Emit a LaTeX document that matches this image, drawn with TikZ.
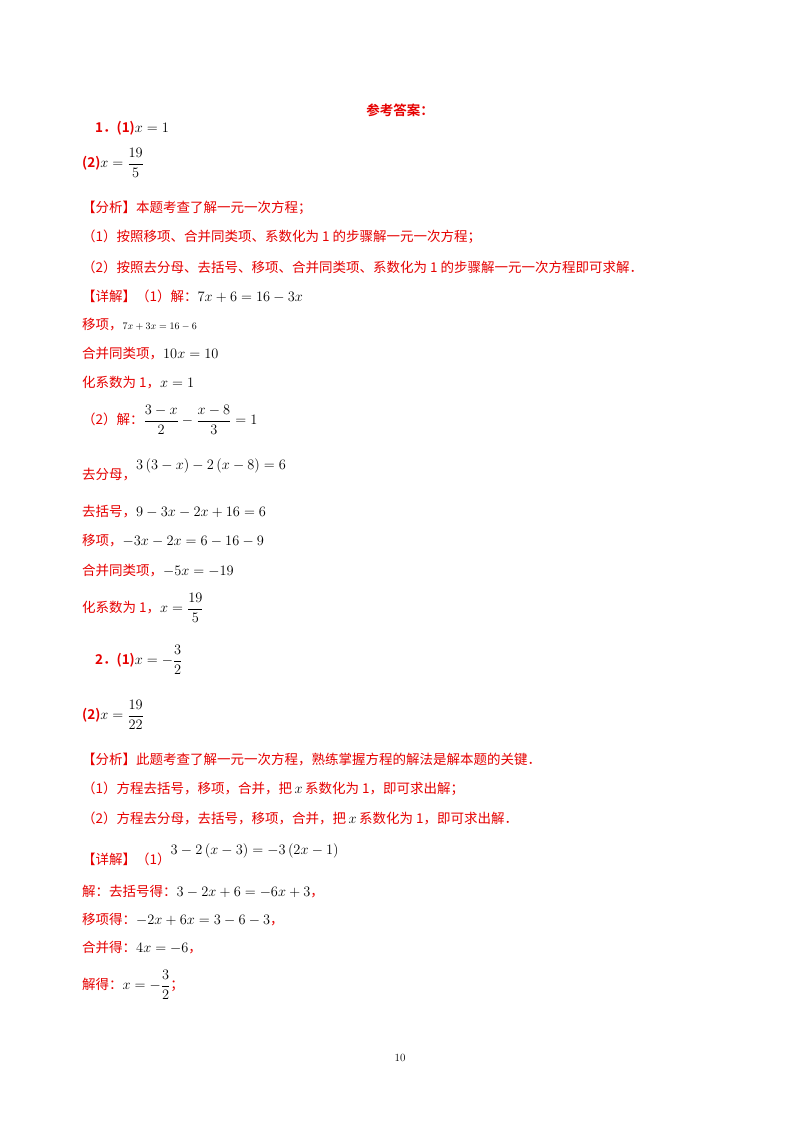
\documentclass[tikz,border=0pt]{standalone}
\usepackage{amsmath}
\usepackage{fontspec}
\newfontfamily\cjk{Noto Sans CJK SC}
\newfontfamily\cjkb{Noto Sans CJK SC Bold}
\definecolor{rd}{RGB}{230,0,0}
\tikzset{ln/.style={anchor=west,inner sep=0pt,text=rd,font=\cjk\fontsize{13.5}{16}\selectfont}}
\newcommand{\mth}[1]{\textcolor{black}{$#1$}}
\begin{document}
\begin{tikzpicture}[x=1pt,y=-1pt]
\useasboundingbox (0,0) rectangle (800,1132);
\fill[white] (0,0) rectangle (800,1132);
\node[ln,anchor=center,font=\cjkb\fontsize{13.5}{16}\selectfont] (t) at (400,110) {参考答案：};
\node[ln,font=\cjkb\fontsize{13.5}{16}\selectfont] (a1) at (95,128) {1．(1)\mth{x=1}};
\node[ln,font=\cjkb\fontsize{13.5}{16}\selectfont] (a2) at (82,163) {(2)\mth{x=\dfrac{19}{5}}};
\node[ln] (b1) at (82,208) {【分析】本题考查了解一元一次方程；};
\node[ln] (b2) at (82,237) {（1）按照移项、合并同类项、系数化为 1 的步骤解一元一次方程；};
\node[ln] (b3) at (82,267) {（2）按照去分母、去括号、移项、合并同类项、系数化为 1 的步骤解一元一次方程即可求解．};
\node[ln] (c1) at (82,296) {【详解】（1）解：\mth{7x+6=16-3x}};
\node[ln] (c2) at (82,325) {移项，{\fontsize{10}{12}\selectfont\mth{7x+3x=16-6}}};
\node[ln] (c3) at (82,354) {合并同类项，\mth{10x=10}};
\node[ln] (c4) at (82,383) {化系数为 1，\mth{x=1}};
\node[ln] (c5) at (82,420) {（2）解：\mth{\dfrac{3-x}{2}-\dfrac{x-8}{3}=1}};
\node[ln] (c6) at (82,470) {去分母，\raisebox{10pt}{\mth{3\left(3-x\right)-2\left(x-8\right)=6}}};
\node[ln] (c7) at (82,512) {去括号，\mth{9-3x-2x+16=6}};
\node[ln] (c8) at (82,541) {移项，\mth{-3x-2x=6-16-9}};
\node[ln] (c9) at (82,571) {合并同类项，\mth{-5x=-19}};
\node[ln] (c10) at (82,608) {化系数为 1，\mth{x=\dfrac{19}{5}}};
\node[ln,font=\cjkb\fontsize{13.5}{16}\selectfont] (d1) at (95,660) {2．(1)\mth{x=-\dfrac{3}{2}}};
\node[ln,font=\cjkb\fontsize{13.5}{16}\selectfont] (d2) at (82,715) {(2)\mth{x=\dfrac{19}{22}}};
\node[ln] (e1) at (82,760) {【分析】此题考查了解一元一次方程，熟练掌握方程的解法是解本题的关键．};
\node[ln] (e2) at (82,789) {（1）方程去括号，移项，合并，把\mth{\,x\,}系数化为 1，即可求出解；};
\node[ln] (e3) at (82,818) {（2）方程去分母，去括号，移项，合并，把\mth{\,x\,}系数化为 1，即可求出解．};
\node[ln] (f1) at (82,855) {【详解】（1）\raisebox{10pt}{\mth{3-2\left(x-3\right)=-3\left(2x-1\right)}}};
\node[ln] (f2) at (82,892) {解：去括号得：\mth{3-2x+6=-6x+3}，};
\node[ln] (f3) at (82,920) {移项得：\mth{-2x+6x=3-6-3}，};
\node[ln] (f4) at (82,948) {合并得：\mth{4x=-6}，};
\node[ln] (f5) at (82,985) {解得：\mth{x=-\dfrac{3}{2}}；};
\node[anchor=center,font=\fontsize{11}{13}\selectfont] (pg) at (400,1058) {10};
\end{tikzpicture}
\end{document}
